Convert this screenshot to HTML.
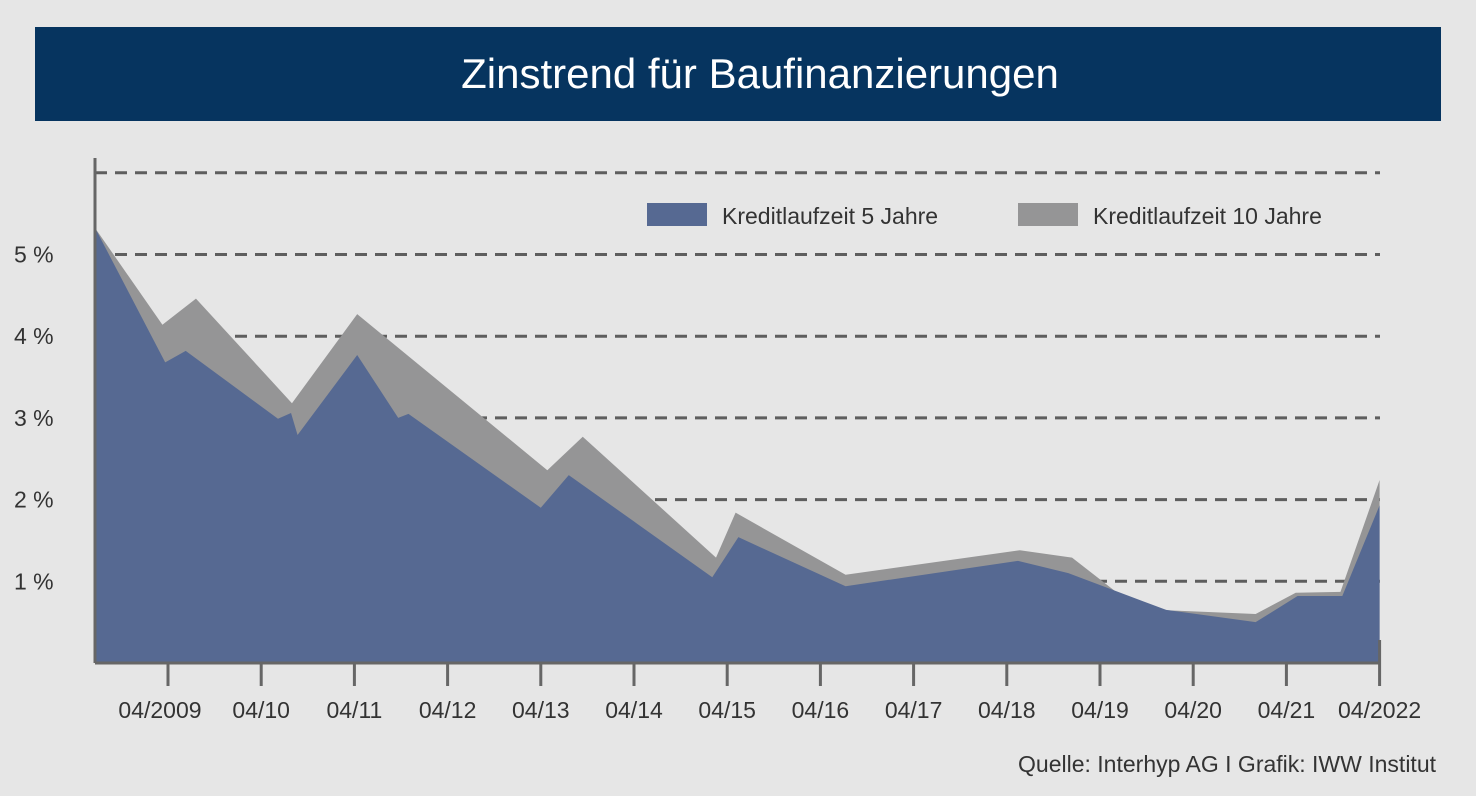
<!DOCTYPE html>
<html><head><meta charset="utf-8"><style>
body{margin:0;width:1476px;height:791px;background:#e6e6e6;overflow:hidden;font-family:"Liberation Sans",sans-serif;}
</style></head><body>
<svg width="1476" height="791">
<rect x="35" y="27" width="1406" height="94" fill="#06345f"/>
<text x="760" y="88" text-anchor="middle" font-size="42" fill="#fff" font-family="Liberation Sans, sans-serif">Zinstrend für Baufinanzierungen</text>
<g id="grid"></g>
<g id="areas"></g>
<g id="axes"></g>
<rect x="647" y="203" width="60" height="23" fill="#566992"/>
<text x="722" y="224" font-size="23" fill="#333">Kreditlaufzeit 5 Jahre</text>
<rect x="1018" y="203" width="60" height="23" fill="#959596"/>
<text x="1093" y="224" font-size="23" fill="#333">Kreditlaufzeit 10 Jahre</text>
<text x="1436" y="772" text-anchor="end" font-size="23" fill="#333">Quelle: Interhyp AG I Grafik: IWW Institut</text>
</svg>
<script>
const yTicks=[1,2,3,4,5,6];
const yLabels=["1 %","2 %","3 %","4 %","5 %",""];
const xTickYears=[2009.25,2010.25,2011.25,2012.25,2013.25,2014.25,2015.25,2016.25,2017.25,2018.25,2019.25,2020.25,2021.25,2022.25];
const xLabels=["04/2009","04/10","04/11","04/12","04/13","04/14","04/15","04/16","04/17","04/18","04/19","04/20","04/21","04/2022"];
const t10=[2008.47,2009.19,2009.55,2010.58,2011.28,2013.32,2013.70,2015.13,2015.34,2016.52,2018.39,2018.95,2019.66,2020.92,2021.35,2021.83,2022.25];
const v10=[5.32,4.14,4.46,3.18,4.27,2.36,2.77,1.29,1.84,1.08,1.38,1.29,0.66,0.60,0.86,0.87,2.24];
const t5=[2008.47,2009.22,2009.44,2010.43,2010.57,2010.64,2011.28,2011.72,2011.83,2013.25,2013.55,2015.09,2015.37,2016.52,2018.37,2018.91,2019.96,2020.92,2021.37,2021.85,2022.25];
const v5=[5.32,3.68,3.82,2.99,3.06,2.79,3.77,3.00,3.05,1.90,2.30,1.05,1.54,0.94,1.25,1.10,0.65,0.50,0.82,0.82,1.93];
const NS="http://www.w3.org/2000/svg";
const X0=95,X1=1380,Y0=663;
function x(t){return 168+(t-2009.25)*93.2;}
function y(v){return Y0-v*81.7;}
function mk(tag,attrs,parent){const e=document.createElementNS(NS,tag);for(const k in attrs)e.setAttribute(k,attrs[k]);document.getElementById(parent).appendChild(e);return e;}
yTicks.forEach((v,i)=>{
 const l=mk('line',{x1:X0,x2:X1,y1:y(v),y2:y(v),stroke:'#5e5e5e','stroke-width':3,'stroke-dasharray':'12 8'},'grid');
 
 
 if(yLabels[i]){const t=mk('text',{x:14,y:y(v)+8,'font-size':23,fill:'#333'},'grid');t.textContent=yLabels[i];
 
 }
});
function area(ts,vs,color,name){
 let d='M'+x(ts[0])+','+Y0;
 ts.forEach((t,i)=>{d+=' L'+x(t)+','+y(vs[i]);});
 d+=' L'+x(ts[ts.length-1])+','+Y0+'Z';
 const p=mk('path',{d:d,fill:color},'areas');
 
 
}
area(t10,v10,'#959596','area-10-jahre');
area(t5,v5,'#566992','area-5-jahre');
let a=mk('line',{x1:X0,x2:X0,y1:158,y2:Y0,stroke:'#666','stroke-width':3},'axes');


a=mk('line',{x1:X0,x2:X1+1,y1:Y0,y2:Y0,stroke:'#666','stroke-width':3},'axes');


xTickYears.forEach((t,i)=>{
 const tk=mk('line',{x1:x(t),x2:x(t),y1:i==xTickYears.length-1?640:Y0,y2:686,stroke:'#666','stroke-width':3},'axes');
 
 
 const tx=mk('text',{x:x(t)-(i==0?8:0),y:718,'text-anchor':'middle','font-size':23,fill:'#333'},'axes');
 tx.textContent=xLabels[i];
 
 
});
</script>
</body></html>
